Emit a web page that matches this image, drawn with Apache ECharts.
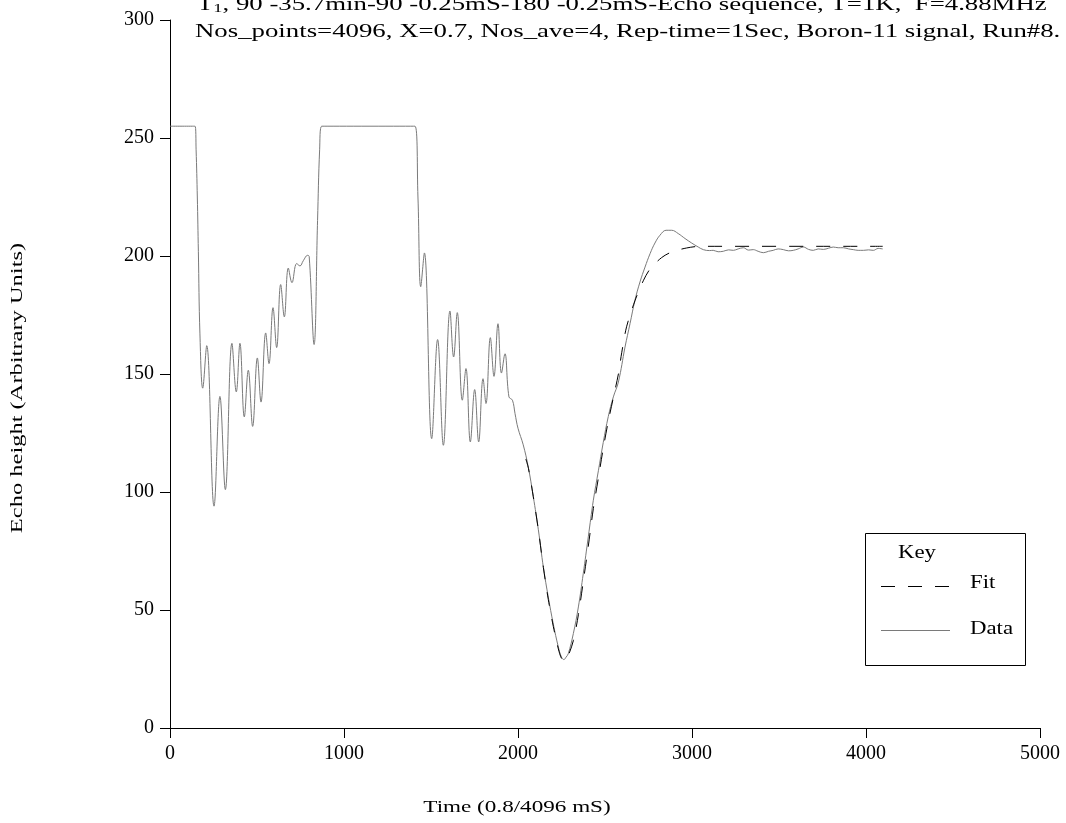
<!DOCTYPE html>
<html lang="en">
  <head>
    <meta charset="UTF-8" />
    <title>Boron-11 echo height</title>
    <style>
      html, body { margin: 0; padding: 0; background: #fff; }
      #chart { width: 1066px; height: 823px; }
    </style>
    <script src="https://cdn.jsdelivr.net/npm/echarts@6.0.0/dist/echarts.min.js"></script>
  </head>
  <body>
    <div id="chart"></div>
    <script>
      const dataX = [0, 144, 150, 157, 163, 172, 188, 211, 253, 287, 318, 356, 381, 402, 427, 450, 475, 502, 523, 550, 569, 592, 613, 636, 657, 680, 701, 728, 747, 766, 791, 800, 828, 848, 860, 872,
        1408, 1425, 1441, 1462, 1504, 1538, 1571, 1609, 1630, 1651, 1680, 1701, 1726, 1751, 1774, 1799, 1816, 1841, 1862, 1885, 1905, 1925, 1948, 1968, 1983, 2000, 2030, 2059, 2088, 2117, 2146, 2174, 2203, 2232, 2250, 2264, 2276, 2289, 2318, 2347, 2375, 2404, 2433, 2462, 2490, 2519, 2548, 2577, 2615, 2644, 2672, 2701, 2730, 2759, 2787, 2816, 2851, 2883, 2921, 2960, 2998, 3036, 3065, 3100, 3122, 3150, 3180, 3210, 3238, 3265, 3295, 3325, 3352, 3380, 3410, 3440, 3467, 3495, 3525, 3555, 3582, 3610, 3640, 3670, 3697, 3725, 3755, 3785, 3812, 3840, 3870, 3900, 3927, 3955, 3985, 4015, 4042, 4070, 4096];
      const dataY = [255, 255, 245, 225, 202, 167, 144, 162, 94, 140.5, 101, 163, 142.4, 163, 131.8, 151.6, 127.8, 156.8, 138.1, 167.4, 154.4, 178.1, 161.2, 187.9, 174.2, 194.9, 188.7, 196.8, 195.8, 198, 200.3, 199.8, 162.5, 215, 245, 255,
        255, 225, 187, 201.3, 122.6, 164.6, 119.8, 176.7, 157.2, 176, 138.9, 152.3, 121.2, 143.4, 121.2, 148, 137.5, 165.4, 149, 171.3, 150.4, 158.6, 140.3, 138.9, 133.2, 127, 120, 110.6, 98, 84, 68, 55.5, 44, 34.3, 30, 29, 30, 31.5, 40, 51.3, 65.4, 81, 96.5, 109, 121, 132, 140.3, 146.6, 161.4, 171.4, 181.2, 189, 195.3, 201, 205.5, 208.8, 210.9, 210.9, 209.5, 207.4, 205.5, 203.8, 202.7, 202.3, 202.4, 201.8, 202, 202.6, 202.4, 203, 203.5, 202.5, 202.7, 202, 201.4, 202, 202.4, 203, 202.7, 202.2, 202.4, 203, 203.8, 202.8, 202.4, 203, 202.8, 203.3, 203.8, 203.5, 203.5, 203, 202.7, 202.4, 202.4, 202.6, 202.4, 203.2, 203];

      // fitted curve
      const fitX = [2045, 2060, 2088, 2117, 2146, 2174, 2203, 2232, 2250, 2267, 2285, 2318, 2347, 2375, 2404, 2433, 2462, 2490, 2519, 2548, 2577, 2596, 2624, 2672, 2720, 2759, 2825, 2883, 2969, 3046, 4096];
      const fitY = [114, 110, 98, 84, 68, 54.5, 43, 33.5, 29.5, 28.5, 30, 37, 48, 62, 77, 93, 106, 118.5, 130, 140, 150, 159, 170, 181, 189.5, 194.5, 199.3, 201.7, 203.4, 204.1, 204.1];

      const xTicks = [0, 1000, 2000, 3000, 4000, 5000];
      const yTicks = [0, 50, 100, 150, 200, 250, 300];

      const titleLine1 = "T{sub|1}, 90 -35.7min-90 -0.25mS-180 -0.25mS-Echo sequence, T=1K,  F=4.88MHz";
      const titleLine2 = "Nos_points=4096, X=0.7, Nos_ave=4, Rep-time=1Sec, Boron-11 signal, Run#8.";
      const xName = "Time (0.8/4096 mS)";
      const yName = "Echo height (Arbitrary Units)";

      const serif = "Liberation Serif";
      const pairs = (xs, ys) => xs.map((x, i) => [x, ys[i]]);

      // the original typeface is wide, so text is stretched along its baseline
      function wideText(x, y, text, size, stretch, extra) {
        return {
          type: "text", x: x, y: y, scaleX: stretch,
          style: Object.assign({ text: text, x: 0, y: 0, font: size + "px " + serif, fill: "#000", align: "center", verticalAlign: "middle" }, extra || {}),
        };
      }

      const chart = echarts.init(document.getElementById("chart"), null, { renderer: "canvas" });
      const axisCommon = {
        type: "value",
        axisLine: { show: true, lineStyle: { color: "#000", width: 1 } },
        axisTick: { show: true, length: 10, lineStyle: { color: "#000" } },
        splitLine: { show: false },
        axisLabel: { color: "#000", fontFamily: serif, fontSize: 20, formatter: (v) => String(v) },
      };

      const yTitle = wideText(18, 388, yName, 17, 1.44);
      yTitle.rotation = Math.PI / 2;

      chart.setOption({
        animation: false,
        backgroundColor: "#fff",
        grid: { left: 170, right: 26, top: 20, bottom: 95, containLabel: false, outerBoundsMode: "none" },
        xAxis: Object.assign({}, axisCommon, {
          min: xTicks[0], max: xTicks[xTicks.length - 1], interval: 1000,
          axisLabel: Object.assign({}, axisCommon.axisLabel, { margin: 16 }),
        }),
        yAxis: Object.assign({}, axisCommon, {
          min: yTicks[0], max: yTicks[yTicks.length - 1], interval: 50,
          axisLabel: Object.assign({}, axisCommon.axisLabel, { margin: 16 }),
        }),
        series: [
          {
            name: "Data", type: "line", data: pairs(dataX, dataY), showSymbol: false,
            smooth: 0.4, lineStyle: { color: "#7a7a7a", width: 1 }, z: 2,
          },
          {
            name: "Fit", type: "line", data: pairs(fitX, fitY), showSymbol: false,
            smooth: 0.3, lineStyle: { color: "#000", width: 1, type: [14, 13] }, z: 3,
          },
        ],
        graphic: [
          wideText(197, 15, titleLine1, 19, 1.41, {
            align: "left", verticalAlign: "bottom",
            rich: { sub: { fontSize: 13, fontFamily: serif, padding: [6, 0, 0, 0] } },
          }),
          wideText(195, 42, titleLine2, 19, 1.41, { align: "left", verticalAlign: "bottom" }),
          wideText(517, 808, xName, 17, 1.36),
          yTitle,
          // key box
          { type: "rect", shape: { x: 865.5, y: 533.5, width: 160, height: 132 }, style: { fill: "none", stroke: "#000", lineWidth: 1 } },
          wideText(898, 553, "Key", 19, 1.2, { align: "left" }),
          { type: "line", shape: { x1: 881, y1: 586.5, x2: 950, y2: 586.5 }, style: { stroke: "#000", lineWidth: 1, lineDash: [14, 13] } },
          wideText(970, 583, "Fit", 19, 1.2, { align: "left" }),
          { type: "line", shape: { x1: 881, y1: 630.5, x2: 950, y2: 630.5 }, style: { stroke: "#7a7a7a", lineWidth: 1 } },
          wideText(970, 629, "Data", 19, 1.2, { align: "left" }),
        ],
      });
    </script>
  </body>
</html>
